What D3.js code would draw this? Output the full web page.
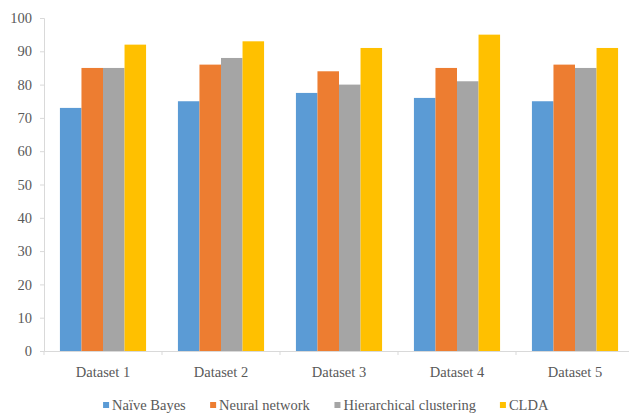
<!DOCTYPE html>
<html>
<head>
<meta charset="utf-8">
<script src="https://cdn.jsdelivr.net/npm/d3@7"></script>
<style>
  html, body { margin: 0; padding: 0; background: #fff; }
  svg { display: block; }
</style>
</head>
<body>
<svg id="chart" width="629" height="414"></svg>
<script>
// Accuracy (%) of each method on each dataset
const datasets = ["Dataset 1", "Dataset 2", "Dataset 3", "Dataset 4", "Dataset 5"];
const methods = ["Naïve Bayes", "Neural network", "Hierarchical clustering", "CLDA"];
const naiveBayes     = [73, 75, 77.5, 76, 75];
const neuralNetwork  = [85, 86, 84, 85, 86];
const hierarchical   = [85, 88, 80, 81, 85];
const clda           = [92, 93, 91, 95, 91];
const yTicks = [0, 10, 20, 30, 40, 50, 60, 70, 80, 90, 100];
const colors = ["#5B9BD5", "#ED7D31", "#A5A5A5", "#FFC000"];

const FONT = "'Liberation Serif', 'Times New Roman', Times, serif";
const TEXT_COLOR = "#595959";

const seriesValues = [naiveBayes, neuralNetwork, hierarchical, clda];
const rows = datasets.map((d, i) => ({
  dataset: d,
  values: methods.map((m, j) => ({ method: m, value: seriesValues[j][i] }))
}));

const svg = d3.select("#chart");
const plotLeft = 44, plotRight = 634, plotTop = 18, plotBottom = 351;

const x0 = d3.scaleBand().domain(datasets).range([plotLeft, plotRight])
  .paddingInner(0.27).paddingOuter(0.135);
const x1 = d3.scaleBand().domain(methods).range([0, x0.bandwidth()]);
const y = d3.scaleLinear().domain([0, 100]).range([plotBottom, plotTop]);
const color = d3.scaleOrdinal().domain(methods).range(colors);

function styleText(sel) {
  sel.style("font-family", FONT).style("font-size", "14.5px").style("fill", TEXT_COLOR);
}

// Bars
svg.append("g").selectAll("g")
  .data(rows).join("g")
  .attr("transform", d => `translate(${x0(d.dataset)},0)`)
  .selectAll("rect")
  .data(d => d.values).join("rect")
  .attr("x", d => x1(d.method))
  .attr("y", d => y(d.value))
  .attr("width", x1.bandwidth())
  .attr("height", d => y(0) - y(d.value))
  .attr("fill", d => color(d.method));

// Y axis
const yAxis = svg.append("g")
  .attr("transform", `translate(${plotLeft},0)`)
  .call(d3.axisLeft(y).tickValues(yTicks).tickSize(4).tickPadding(8));
yAxis.attr("font-family", null);
yAxis.select(".domain").attr("stroke", "#D9D9D9");
yAxis.selectAll(".tick line").attr("stroke", "#D9D9D9");
yAxis.selectAll("text").call(styleText);

// X axis with dividers between categories
const xAxis = svg.append("g")
  .attr("transform", `translate(0,${plotBottom})`)
  .call(d3.axisBottom(x0).tickSize(0).tickPadding(16));
xAxis.attr("font-family", null);
xAxis.select(".domain").attr("stroke", "#D9D9D9");
xAxis.selectAll("text").call(styleText);
const step = x0.step();
svg.append("g").selectAll("line")
  .data(d3.range(0, datasets.length + 1))
  .join("line")
  .attr("x1", i => plotLeft + i * step).attr("x2", i => plotLeft + i * step)
  .attr("y1", plotBottom).attr("y2", plotBottom + 4)
  .attr("stroke", "#D9D9D9");

// Legend
const legend = svg.append("g").attr("transform", "translate(0,405)");
const items = legend.selectAll("g").data(methods).join("g");
items.append("rect")
  .attr("width", 6).attr("height", 6).attr("y", -3)
  .attr("fill", d => color(d));
items.append("text")
  .attr("x", 9).attr("dy", "0.35em")
  .call(styleText)
  .text(d => d);
let offset = 0;
const positions = [];
items.each(function () {
  const w = this.getBBox().width;
  positions.push(offset);
  offset += w + 24;
});
const totalWidth = offset - 24;
const startX = 326 - totalWidth / 2;
items.attr("transform", (d, i) => `translate(${startX + positions[i]},0)`);
</script>
</body>
</html>
